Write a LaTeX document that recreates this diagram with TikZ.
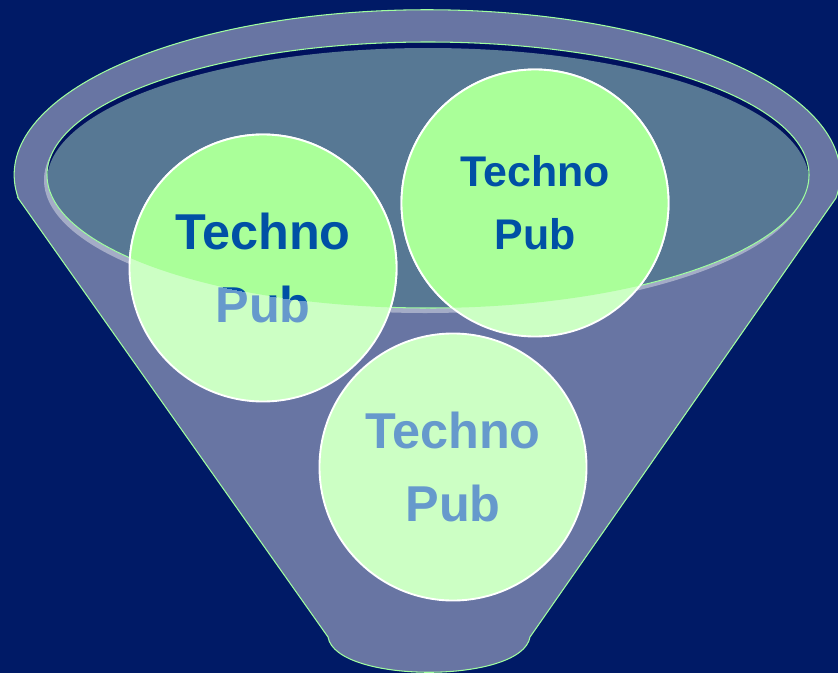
\documentclass[tikz,border=0pt]{standalone}
\usepackage{fontspec}
\setmainfont{Liberation Sans}
\definecolor{bgblue}{HTML}{001A66}
\definecolor{funnel}{HTML}{6875A3}
\definecolor{rimgreen}{HTML}{A0FFA0}
\definecolor{mouth}{HTML}{577894}
\definecolor{mouthdark}{HTML}{00115E}
\definecolor{pubpale}{HTML}{CCFFC4}
\definecolor{pubgreen}{HTML}{AAFF99}
\definecolor{textdark}{HTML}{0050A5}
\definecolor{textlight}{HTML}{6699CC}
\tikzset{
	pub/.style={circle,draw=white,line width=1.6pt,fill=pubpale,
		minimum size=80.1mm,inner sep=0pt,align=center,text=textlight,
		font={\bfseries\fontsize{43pt}{62pt}\selectfont}},
	pubsmall/.style={font={\bfseries\fontsize{36.6pt}{53.5pt}\selectfont}},
	pubin/.style={fill=pubgreen,text=textdark},
	rim/.style={draw=rimgreen,line width=0.9pt}
}

\begin{document}
\begin{tikzpicture}[x=0.3mm,y=-0.3mm]
	\useasboundingbox (0,0) rectangle (838,673);
	\fill[bgblue] (0,0) rectangle (838,673);
	% funnel body
	\filldraw[fill=funnel,rim] (18,198) -- (328,637)
		.. controls (336,684) and (522,684) .. (530,637)
		-- (836,198) arc[start angle=8.1,end angle=-188.1,x radius=413,y radius=165] -- cycle;
	% mouth of the funnel
	\fill[white,opacity=0.4] (425,180) ellipse[x radius=381,y radius=133];
	\fill[mouthdark] (428,175) ellipse[x radius=381,y radius=133];
	\begin{scope}
		\clip (428,175) ellipse[x radius=381,y radius=133];
		\fill[mouth] (428,181) ellipse[x radius=381,y radius=133];
	\end{scope}
	\draw[rim] (428,175) ellipse[x radius=381,y radius=133];
	% circles
	\node[pub] (left) at (263,268) {Techno\\Pub};
	\node[pub,pubsmall] (right) at (535,203) {Techno\\Pub};
	\node[pub] (low) at (453,467) {Techno\\Pub};
	\begin{scope}
		\clip (428,175) ellipse[x radius=381,y radius=133];
		\node[pub,pubin] (leftin) at (left) {Techno\\Pub};
		\node[pub,pubin,pubsmall] (rightin) at (right) {Techno\\Pub};
	\end{scope}
\end{tikzpicture}
\end{document}
